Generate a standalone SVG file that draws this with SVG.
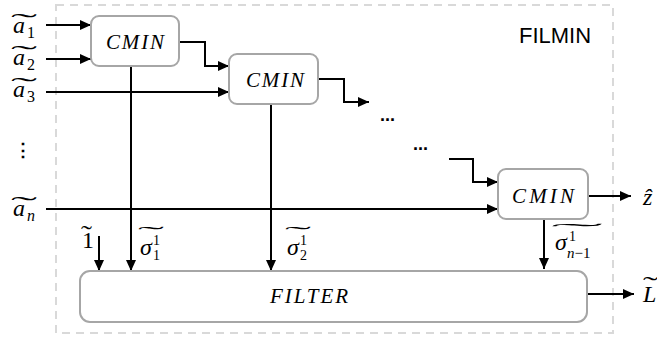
<svg xmlns="http://www.w3.org/2000/svg" width="657" height="337" viewBox="0 0 657 337">
<style>
.node{fill:#fff;stroke:#a6a6a6;stroke-width:2}
.frame{fill:none;stroke:#d9d9d9;stroke-width:2;stroke-dasharray:8,6}
.c{fill:none;stroke:#000;stroke-width:2;marker-end:url(#ah)}
.lbl{font-family:"Liberation Serif",serif;font-style:italic;font-size:21px;fill:#000}
.m{font-family:"Liberation Serif",serif;font-style:italic;font-size:24px;fill:#000}
.up{font-style:normal}
.dots{font-family:"Liberation Sans",sans-serif;font-weight:bold;font-size:18px;fill:#000}
</style>
<defs>
<marker id="ah" markerWidth="11" markerHeight="10" refX="11" refY="5" orient="auto" markerUnits="userSpaceOnUse">
<path d="M0,0 L11,5 L0,10 z" fill="#000"/>
</marker>
</defs>
<rect id="filmin" class="frame" x="56" y="5" width="557" height="328"/>
<text x="555" y="43" text-anchor="middle" font-family="Liberation Sans,sans-serif" font-size="22" fill="#000">FILMIN</text>

<g id="connectors">
<line class="c" x1="46" y1="25" x2="91" y2="25"/>
<line class="c" x1="46" y1="59" x2="91" y2="59"/>
<line class="c" x1="46" y1="92" x2="229" y2="92"/>
<polyline class="c" points="179,42 205,42 205,66 229,66"/>
<polyline class="c" points="318,79 344,79 344,102 369,102"/>
<polyline class="c" points="449,159 473,159 473,182 498,182"/>
<line class="c" x1="46" y1="209" x2="498" y2="209"/>
<line class="c" x1="588" y1="196" x2="631" y2="196"/>
<line class="c" x1="131" y1="66" x2="131" y2="271"/>
<line class="c" x1="271" y1="104" x2="271" y2="271"/>
<line class="c" x1="544" y1="219" x2="544" y2="269"/>
<line class="c" x1="99" y1="236" x2="99" y2="271"/>
<line class="c" x1="587" y1="294" x2="634" y2="294"/>
</g>

<g id="cmin1"><rect class="node" x="91" y="16" width="88" height="50" rx="8"/><text class="lbl" x="135" y="49" text-anchor="middle" textLength="58" lengthAdjust="spacing">CMIN</text></g>
<g id="cmin2"><rect class="node" x="229" y="54" width="89" height="50" rx="8"/><text class="lbl" x="275" y="87" text-anchor="middle" textLength="58" lengthAdjust="spacing">CMIN</text></g>
<g id="cmin3"><rect class="node" x="498" y="169" width="90" height="50" rx="8"/><text class="lbl" x="543" y="203" text-anchor="middle" textLength="62" lengthAdjust="spacing">CMIN</text></g>
<g id="filter"><rect class="node" x="80" y="271" width="507" height="51" rx="10"/><text class="lbl" x="309" y="303" text-anchor="middle" textLength="78" lengthAdjust="spacing">FILTER</text></g>

<g id="labels">
<text id="a1" class="m" x="13" y="33">a<tspan class="up" x="27" y="38" font-size="16">1</tspan><tspan class="up" x="11" y="30" textLength="26" lengthAdjust="spacingAndGlyphs">˜</tspan></text>
<text id="a2" class="m" x="13" y="65">a<tspan class="up" x="27" y="70" font-size="16">2</tspan><tspan class="up" x="11" y="62" textLength="26" lengthAdjust="spacingAndGlyphs">˜</tspan></text>
<text id="a3" class="m" x="13" y="97">a<tspan class="up" x="27" y="102" font-size="16">3</tspan><tspan class="up" x="11" y="94" textLength="26" lengthAdjust="spacingAndGlyphs">˜</tspan></text>
<text id="vdots" class="dots" x="23" y="156" text-anchor="middle">⋮</text>
<text id="an" class="m" x="13" y="216">a<tspan x="27" y="221" font-size="16">n</tspan><tspan class="up" x="11" y="213" textLength="26" lengthAdjust="spacingAndGlyphs">˜</tspan></text>
<text id="one" class="m up" x="82" y="248" font-size="19">1<tspan x="81" y="242" textLength="11" lengthAdjust="spacingAndGlyphs">˜</tspan></text>
<text id="sig1" class="m" x="140" y="255" font-size="21">σ<tspan class="up" x="153" y="245" font-size="14">1</tspan><tspan class="up" x="153" y="260" font-size="14">1</tspan><tspan class="up" x="138" y="241" font-size="22" textLength="26" lengthAdjust="spacingAndGlyphs">˜</tspan></text>
<text id="sig2" class="m" x="287" y="255" font-size="21">σ<tspan class="up" x="300" y="245" font-size="14">1</tspan><tspan class="up" x="300" y="260" font-size="14">2</tspan><tspan class="up" x="285" y="241" font-size="22" textLength="26" lengthAdjust="spacingAndGlyphs">˜</tspan></text>
<text id="sign" class="m" x="555" y="250" font-size="21">σ<tspan class="up" x="569" y="241" font-size="14">1</tspan><tspan x="567" y="258" font-size="15">n</tspan><tspan class="up" font-size="15">−1</tspan><tspan class="up" x="551" y="238" font-size="22" textLength="52" lengthAdjust="spacingAndGlyphs">˜</tspan></text>
<text id="dots1" class="dots" x="380" y="121">...</text>
<text id="dots2" class="dots" x="413" y="150">...</text>
<text id="zhat" class="m" x="643" y="205" font-size="26">ẑ</text>
<text id="Ltil" class="m" x="643" y="302" font-size="26">L<tspan class="up" x="643" y="293" font-size="24" textLength="15" lengthAdjust="spacingAndGlyphs">˜</tspan></text>
</g>
</svg>
